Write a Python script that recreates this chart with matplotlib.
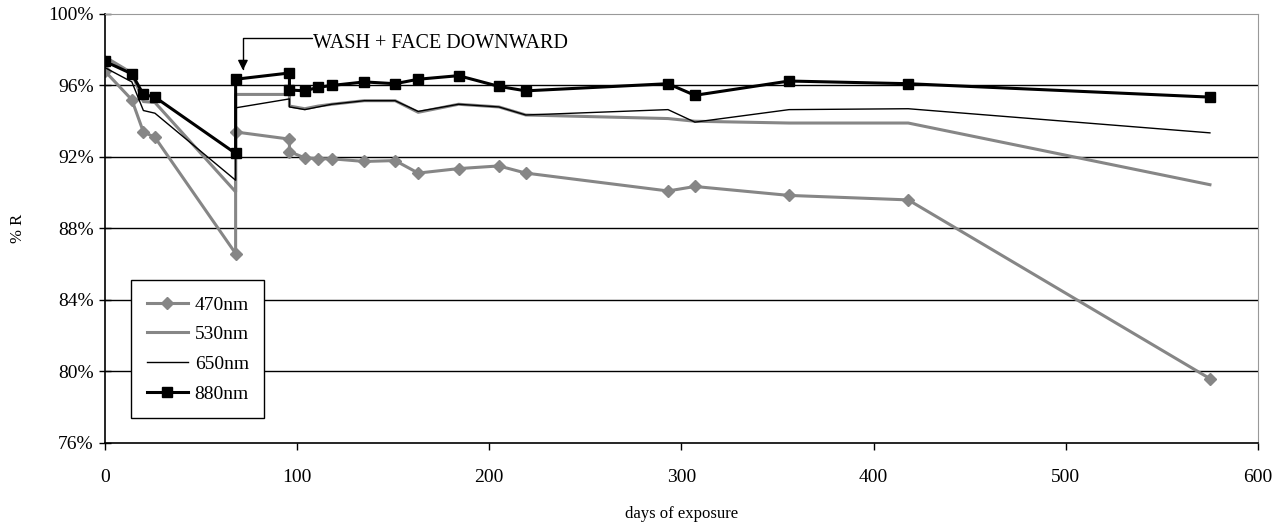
import matplotlib
matplotlib.use('Agg')
import matplotlib.pyplot as plt
from matplotlib.ticker import FuncFormatter

# days of exposure (wash at day 68, second reading at day 96)
days = [0, 14, 20, 26, 68, 68, 96, 96, 104, 111, 118, 135, 151, 163, 184, 205, 219, 293, 307, 356, 418, 575]

r470 = [96.8, 95.2, 93.4, 93.1, 86.6, 93.4, 93.0, 92.3, 91.95, 91.9, 91.9, 91.75, 91.8, 91.1, 91.35, 91.5, 91.1, 90.1, 90.35, 89.85, 89.6, 79.6]
r530 = [97.6, 96.7, 95.1, 95.05, 90.05, 95.5, 95.5, 94.85, 94.7, 94.85, 94.95, 95.15, 95.15, 94.5, 94.95, 94.8, 94.35, 94.15, 94.0, 93.9, 93.9, 90.45]
r650 = [97.0, 96.2, 94.6, 94.45, 90.7, 94.75, 95.25, 94.8, 94.65, 94.8, 94.95, 95.15, 95.15, 94.55, 94.95, 94.8, 94.35, 94.65, 93.95, 94.65, 94.7, 93.35]
r880 = [97.35, 96.65, 95.5, 95.35, 92.2, 96.35, 96.7, 95.75, 95.7, 95.9, 96.0, 96.2, 96.1, 96.35, 96.55, 95.95, 95.7, 96.1, 95.45, 96.25, 96.1, 95.35]

plt.rcParams['font.family'] = ['Liberation Serif', 'DejaVu Serif']
plt.rcParams['font.size'] = 14

gray = '#868686'
fig = plt.figure(figsize=(12.83, 5.26), dpi=100)
ax = fig.add_axes([0.0818, 0.1578, 0.8987, 0.8156])

ax.plot(days, r470, color=gray, lw=2.2, marker='D', ms=6, label='470nm')
ax.plot(days, r530, color=gray, lw=2.2, label='530nm')
ax.plot(days, r650, color='black', lw=1.0, label='650nm')
ax.plot(days, r880, color='black', lw=2.2, marker='s', ms=6.5, label='880nm')

ax.set_xlim(0, 600)
ax.set_ylim(76, 100)
ax.set_xticks(range(0, 601, 100))
ax.set_yticks(range(76, 101, 4))
ax.yaxis.set_major_formatter(FuncFormatter(lambda v, p: '%d%%' % v))
for v in range(80, 100, 4):
    ax.axhline(v, color='black', lw=1.0, zorder=0)

ax.spines['top'].set_color('#999999')
ax.spines['right'].set_color('#999999')
ax.spines['left'].set_linewidth(1.2)
ax.spines['bottom'].set_linewidth(1.2)
ax.tick_params(axis='y', direction='inout', length=8, width=1, pad=4)
ax.tick_params(axis='x', direction='out', length=5, width=1, pad=14)

ax.set_xlabel('days of exposure', fontsize=12, labelpad=14)
ax.set_ylabel('% R', fontsize=12, labelpad=16)

ax.annotate('', xy=(71.8, 96.85), xytext=(108, 98.66),
            arrowprops=dict(arrowstyle='-|>', color='black', lw=1,
                            connectionstyle='angle,angleA=0,angleB=90,rad=0',
                            shrinkA=0, shrinkB=0, mutation_scale=15))
ax.text(108.3, 98.35, 'WASH + FACE DOWNWARD', va='center', ha='left', fontsize=14.5)

leg = ax.legend(loc='lower left', bbox_to_anchor=(0.023, 0.058), fancybox=False,
                edgecolor='black', framealpha=1, handlelength=2.1,
                labelspacing=0.62, borderpad=0.8, handletextpad=0.35,
                borderaxespad=0)
leg.get_frame().set_linewidth(1.0)

fig.savefig('out.png', dpi=100)
